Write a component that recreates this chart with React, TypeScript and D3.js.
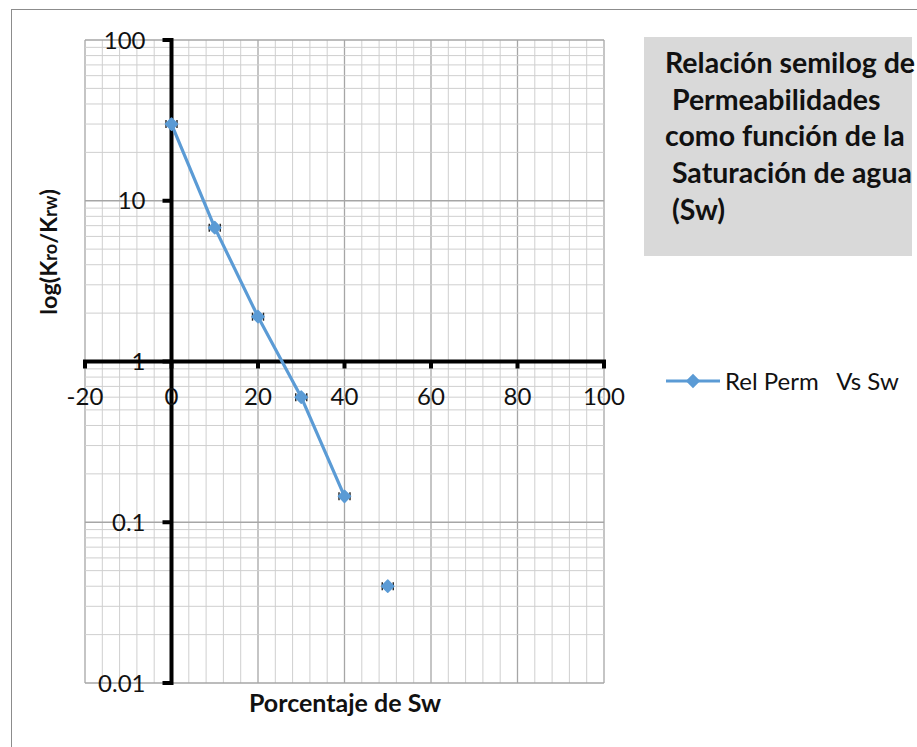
import React, { useRef, useEffect } from 'react';
import * as d3 from 'd3';

// Sw (%) and Kro/Krw
const swValues = [0, 10, 20, 30, 40, 50];
const ratioValues = [30, 6.8, 1.9, 0.6, 0.145, 0.04];
// last point is plotted on its own, not joined by the line
const joined = [true, true, true, true, true, false];

const xTicks = [-20, 0, 20, 40, 60, 80, 100];
const yTicks = [0.01, 0.1, 1, 10, 100];
const yTickLabels = ['0.01', '0.1', '1', '10', '100'];

const titleLines = [
  'Relación semilog de',
  ' Permeabilidades',
  'como función de la',
  ' Saturación de agua',
  ' (Sw)',
];
const seriesName = 'Rel Perm   Vs Sw';

const App: React.FC = () => {
  const svgRef = useRef<SVGSVGElement | null>(null);

  useEffect(() => {
    if (!svgRef.current) return;
    const width = 917;
    const height = 747;
    const font = 'Lato, "Open Sans", sans-serif';
    const blue = '#5B9BD5';

    const svg = d3.select(svgRef.current).attr('width', width).attr('height', height);
    svg.selectAll('*').remove();

    // chart frame
    svg.append('rect')
      .attr('x', 11.5).attr('y', 9.5)
      .attr('width', 910).attr('height', 745)
      .attr('fill', 'white').attr('stroke', '#8c8c8c').attr('stroke-width', 1);

    const x = d3.scaleLinear().domain([-20, 100]).range([85, 604]);
    const y = d3.scaleLog().domain([0.01, 100]).range([683, 40]);

    // gridlines
    const grid = svg.append('g');
    d3.range(-20, 101, 4).forEach(v => {
      const major = v % 20 === 0;
      grid.append('line')
        .attr('x1', x(v)).attr('x2', x(v))
        .attr('y1', y(100)).attr('y2', y(0.01))
        .attr('stroke', major ? '#a6a6a6' : '#cfcfcf')
        .attr('stroke-width', major ? 1.3 : 1);
    });
    const logLines: number[] = [];
    [0.01, 0.1, 1, 10].forEach(dec => d3.range(1, 10).forEach(k => logLines.push(k * dec)));
    logLines.push(100);
    logLines.forEach(v => {
      const major = Math.abs(Math.log10(v) - Math.round(Math.log10(v))) < 1e-9;
      grid.append('line')
        .attr('x1', x(-20)).attr('x2', x(100))
        .attr('y1', y(v)).attr('y2', y(v))
        .attr('stroke', major ? '#a6a6a6' : '#cfcfcf')
        .attr('stroke-width', major ? 1.3 : 1);
    });

    // y axis at Sw = 0
    const ax = svg.append('g');
    ax.append('line')
      .attr('x1', x(0)).attr('x2', x(0))
      .attr('y1', y(100) - 2).attr('y2', y(0.01) + 2)
      .attr('stroke', 'black').attr('stroke-width', 4);
    yTicks.forEach((t, i) => {
      ax.append('line')
        .attr('x1', x(0) - 9).attr('x2', x(0))
        .attr('y1', y(t)).attr('y2', y(t))
        .attr('stroke', 'black').attr('stroke-width', 4);
      ax.append('text')
        .attr('x', x(0) - 26).attr('y', y(t))
        .attr('dy', '0.36em')
        .attr('text-anchor', 'end')
        .style('font-family', font).style('font-size', '24px')
        .attr('fill', '#111')
        .text(yTickLabels[i]);
    });

    // x axis at ratio = 1
    ax.append('line')
      .attr('x1', x(-20) - 2).attr('x2', x(100) + 2)
      .attr('y1', y(1)).attr('y2', y(1))
      .attr('stroke', 'black').attr('stroke-width', 4);
    xTicks.forEach(t => {
      ax.append('line')
        .attr('x1', x(t)).attr('x2', x(t))
        .attr('y1', y(1)).attr('y2', y(1) + 7)
        .attr('stroke', 'black').attr('stroke-width', 4);
      ax.append('text')
        .attr('x', x(t)).attr('y', 405)
        .attr('text-anchor', 'middle')
        .style('font-family', font).style('font-size', '24px')
        .attr('fill', '#111')
        .text(String(t));
    });

    // series
    const pts = swValues.map((s, i) => ({ s, r: ratioValues[i], j: joined[i] }));
    const line = d3.line<{ s: number; r: number; j: boolean }>()
      .defined(d => d.j)
      .x(d => x(d.s))
      .y(d => y(d.r));
    svg.append('path')
      .attr('d', line(pts) || '')
      .attr('fill', 'none').attr('stroke', blue)
      .attr('stroke-width', 3.2).attr('stroke-linejoin', 'round');

    const diamond = d3.symbol().type(d3.symbolDiamond2).size(95);
    pts.forEach(p => {
      const cx = x(p.s);
      const cy = y(p.r);
      [-5.5, 5.5].forEach(dx => {
        svg.append('line')
          .attr('x1', cx + dx).attr('x2', cx + dx)
          .attr('y1', cy - 4).attr('y2', cy + 4)
          .attr('stroke', '#222').attr('stroke-width', 1.4);
      });
      svg.append('path')
        .attr('d', diamond() || '')
        .attr('transform', `translate(${cx},${cy})`)
        .attr('fill', blue)
        .attr('stroke', blue).attr('stroke-width', 1.5).attr('stroke-linejoin', 'round');
    });

    // axis titles
    svg.append('text')
      .attr('x', 345).attr('y', 712)
      .attr('text-anchor', 'middle')
      .style('font-family', font).style('font-size', '25px').style('font-weight', 'bold')
      .attr('fill', '#111')
      .text('Porcentaje de Sw');

    const yt = svg.append('text')
      .attr('transform', 'translate(57,252) rotate(-90)')
      .attr('text-anchor', 'middle')
      .style('font-family', font).style('font-size', '23.5px').style('font-weight', 'bold')
      .attr('fill', '#111');
    yt.append('tspan').text('log(K');
    yt.append('tspan').style('font-size', '18px').text('ro');
    yt.append('tspan').text('/K');
    yt.append('tspan').style('font-size', '18px').text('rw');
    yt.append('tspan').text(')');

    // title box
    svg.append('rect')
      .attr('x', 644).attr('y', 37)
      .attr('width', 268).attr('height', 219)
      .attr('fill', '#d9d9d9');
    titleLines.forEach((l, i) => {
      svg.append('text')
        .attr('x', 665).attr('y', 73 + i * 36.7)
        .style('white-space', 'pre')
        .style('font-family', font).style('font-size', '28.5px').style('font-weight', 'bold')
        .attr('fill', '#111')
        .text(l);
    });

    // legend
    const lg = svg.append('g').attr('transform', 'translate(666,381)');
    lg.append('line').attr('x1', 0).attr('x2', 54).attr('y1', 0).attr('y2', 0)
      .attr('stroke', blue).attr('stroke-width', 3.2);
    lg.append('path').attr('d', diamond() || '').attr('transform', 'translate(27,0)')
      .attr('fill', blue).attr('stroke', blue).attr('stroke-width', 1.5);
    lg.append('text')
      .attr('x', 59).attr('y', 0).attr('dy', '0.36em')
      .style('white-space', 'pre')
      .style('font-family', font).style('font-size', '24px')
      .attr('fill', '#111')
      .text(seriesName);
  }, []);

  return (
    <svg
      ref={svgRef}
      style={{ position: 'absolute', left: 0, top: 0, display: 'block' }}
    ></svg>
  );
};

export default App;
